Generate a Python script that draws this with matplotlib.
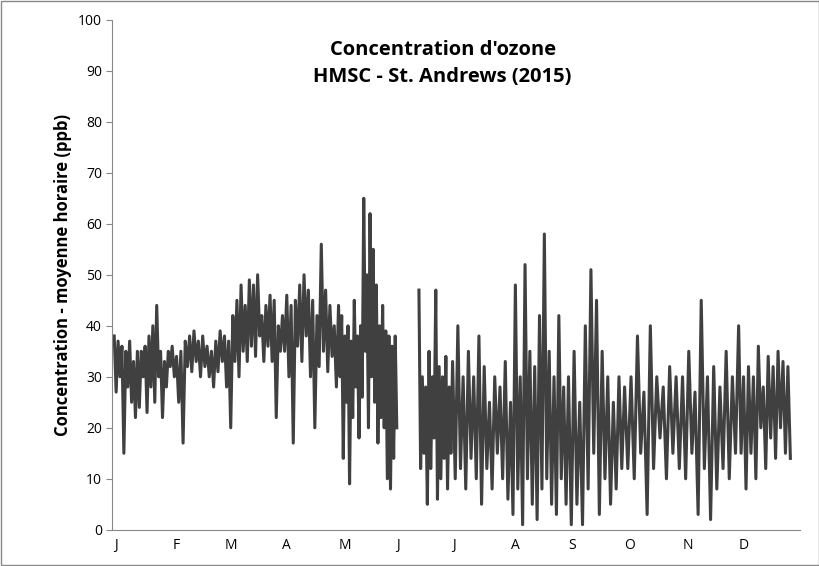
import numpy as np
import matplotlib
matplotlib.use("Agg")
import matplotlib.pyplot as plt

plt.rcParams['font.family'] = ['Open Sans', 'DejaVu Sans']

# segments: (start day, end day, values alternating highs/lows)
seg_jan = [38,27,37,30,36,15,35,28,37,25,33,22,35,24,35,30,36,23,38,28,40,25,44,30,35,22,33,28,35,32]
seg_feb = [36,30,34,25,35,17,37,32,38,31,39,33,37,30,38,32,36,30,35,28,37,31,39,33]
seg_mar = [38,28,37,20,42,33,45,30,48,35,44,33,49,36,48,34,50,38,42,33,44,36,46,33,45,22,40,35]
seg_apr = [42,35,46,30,44,17,45,36,48,33,50,38,47,30,45,20,42,32,56,35,47,31,44,34,40,28]
seg_may = [44,30,42,14,38,25,40,9,37,22,45,28,38,18,40,26,65,35,50,20,62,30,55,25,48,17,40,22,44,20,39,10,38,8,36,14,38,20]
seg_jun = [47,12,30,15,28,5,35,12,30,18,47,6,32,10,30,14,34,8,28,15]
seg_jul = [33,10,40,12,30,8,35,14,30,10,38,5,32,12,25,8,30,15,28,10,33,6]
seg_aug = [25,3,48,8,30,1,52,10,35,5,32,2,42,8,58,10,35,5,30,3,42,10,28,5]
seg_sep = [30,1,35,5,25,1,40,8,51,15,45,3,35,10,30,5,25,8,30,12]
seg_oct = [28,12,30,10,38,15,27,3,40,12,30,18,28,10,32,15,30,12]
seg_nov = [30,10,35,15,27,3,45,12,30,2,32,8,28,12,35,10,30,15]
seg_dec = [40,15,30,8,32,15,30,10,36,20,28,12,34,18,32,14,35,20,33,15,32,14]

before_gap = [(0, 31, seg_jan), (31, 59, seg_feb), (59, 90, seg_mar),
              (90, 120, seg_apr), (120, 152, seg_may)]
after_gap = [(163, 181, seg_jun), (181, 212, seg_jul), (212, 243, seg_aug),
             (243, 273, seg_sep), (273, 304, seg_oct), (304, 334, seg_nov),
             (334, 363, seg_dec)]

month_starts = [0, 31, 59, 90, 120, 151, 181, 212, 243, 273, 304, 334]
month_labels = ["J", "F", "M", "A", "M", "J", "J", "A", "S", "O", "N", "D"]

fig = plt.figure(figsize=(8.2, 5.66), dpi=100)
ax = fig.add_axes([0.137, 0.064, 0.839, 0.901])

for part in (before_gap, after_gap):
    xs, ys = [], []
    for a, b, vals in part:
        xs.extend(np.linspace(a, b, len(vals), endpoint=False))
        ys.extend(vals)
    ax.plot(xs, ys, color="#404040", lw=2.2)

ax.set_xlim(-1, 367)
ax.set_ylim(0, 100)
ax.set_yticks(range(0, 101, 10))
ax.set_xticks(month_starts)
ax.set_xticklabels(month_labels, ha="left")
ax.tick_params(axis="x", length=0, labelsize=10, pad=6)
ax.tick_params(axis="y", labelsize=10, length=4, direction="out", color="#888888")
ax.spines["top"].set_visible(False)
ax.spines["right"].set_visible(False)
ax.spines["left"].set_color("#888888")
ax.spines["bottom"].set_color("#888888")
ax.set_ylabel("Concentration - moyenne horaire (ppb)", fontsize=12, fontweight="bold")
ax.text(0.48, 0.96, "Concentration d'ozone\nHMSC - St. Andrews (2015)",
        transform=ax.transAxes, ha="center", va="top", fontsize=14.5,
        fontweight="bold", linespacing=1.45)

fig.patches.append(plt.Rectangle((0.001, 0.001), 0.998, 0.998, transform=fig.transFigure,
                                 fill=False, edgecolor="#888888", lw=1))
fig.savefig("out.png", dpi=100)
